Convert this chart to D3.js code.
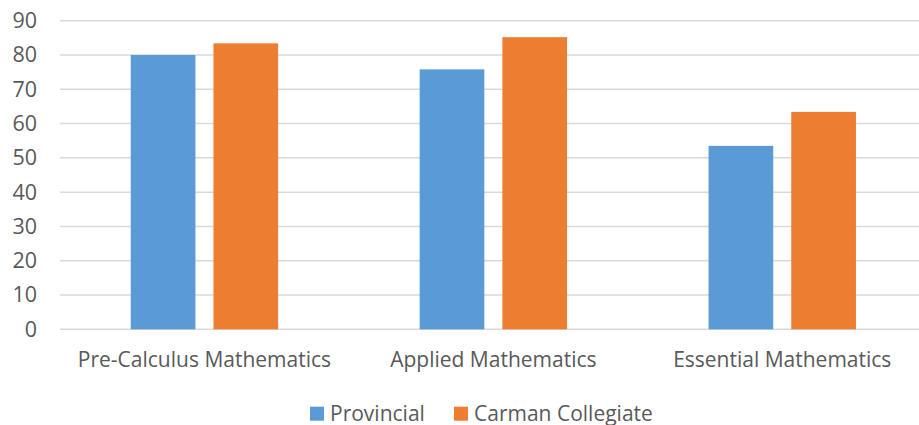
<!DOCTYPE html>
<html>
<head>
<meta charset="utf-8">
<script src="https://cdn.jsdelivr.net/npm/d3@7"></script>
<style>
  body { margin: 0; background: #fff; }
  svg { display: block; font-family: "Open Sans", sans-serif; }
</style>
</head>
<body>
<div id="chart"></div>
<script>
// data
const CATEGORIES = ["Pre-Calculus Mathematics", "Applied Mathematics", "Essential Mathematics"];
const SERIES = ["Provincial", "Carman Collegiate"];
const PROVINCIAL = [80.0, 75.8, 53.5];
const CARMAN = [83.4, 85.2, 63.4];
const Y_TICKS = [0, 10, 20, 30, 40, 50, 60, 70, 80, 90];
const COLORS = ["#5b9bd5", "#ed7d31"];

// frame
const FRAME_WIDTH = 919;
const FRAME_HEIGHT = 425;
const PLOT = {left: 60, right: 926.7, top: 20.7, bottom: 329.3};

const svg = d3.select("#chart")
  .append("svg")
    .attr("width", FRAME_WIDTH)
    .attr("height", FRAME_HEIGHT);

// scales
const X_SCALE = d3.scaleBand()
  .domain(CATEGORIES)
  .range([PLOT.left, PLOT.right]);

const X_INNER = d3.scaleBand()
  .domain(SERIES)
  .range([0, 147.4])
  .paddingInner(0.218);

const Y_SCALE = d3.scaleLinear()
  .domain([0, 90])
  .range([PLOT.bottom, PLOT.top]);

// gridlines
svg.append("g")
  .selectAll("line")
  .data(Y_TICKS)
  .enter()
  .append("line")
    .attr("x1", PLOT.left)
    .attr("x2", FRAME_WIDTH)
    .attr("y1", d => Y_SCALE(d))
    .attr("y2", d => Y_SCALE(d))
    .attr("stroke", "#d9d9d9")
    .attr("stroke-width", 1.5);

// y axis labels
const yAxis = svg.append("g")
  .attr("transform", "translate(" + (PLOT.left - 23) + ",0)")
  .call(d3.axisLeft(Y_SCALE).tickValues(Y_TICKS).tickSize(0).tickPadding(0));
yAxis.select(".domain").remove();
yAxis.selectAll("text")
  .attr("fill", "#595959")
  .attr("font-size", "21.5px")
  .attr("font-family", "'Open Sans', sans-serif");

// x axis labels
const xAxis = svg.append("g")
  .attr("transform", "translate(0," + PLOT.bottom + ")")
  .call(d3.axisBottom(X_SCALE).tickSize(0).tickPadding(23));
xAxis.select(".domain").remove();
xAxis.selectAll("text")
  .attr("fill", "#595959")
  .attr("font-size", "21px")
  .attr("font-family", "'Open Sans', sans-serif");

// bars
const values = [PROVINCIAL, CARMAN];
const groupOffset = (X_SCALE.bandwidth() - 147.4) / 2;

SERIES.forEach((s, si) => {
  svg.append("g")
    .selectAll("rect")
    .data(CATEGORIES)
    .enter()
    .append("rect")
      .attr("x", (d) => X_SCALE(d) + groupOffset + X_INNER(s))
      .attr("y", (d, i) => Y_SCALE(values[si][i]))
      .attr("width", X_INNER.bandwidth())
      .attr("height", (d, i) => PLOT.bottom - Y_SCALE(values[si][i]))
      .attr("fill", COLORS[si]);
});

// legend
const LEGEND_X = [310, 454];
const legend = svg.append("g");
SERIES.forEach((s, i) => {
  legend.append("rect")
    .attr("x", LEGEND_X[i])
    .attr("y", 406.7)
    .attr("width", 14)
    .attr("height", 14)
    .attr("fill", COLORS[i]);
  legend.append("text")
    .attr("x", LEGEND_X[i] + 20)
    .attr("y", 420.5)
    .attr("fill", "#595959")
    .attr("font-size", "21px")
    .text(s);
});
</script>
</body>
</html>
